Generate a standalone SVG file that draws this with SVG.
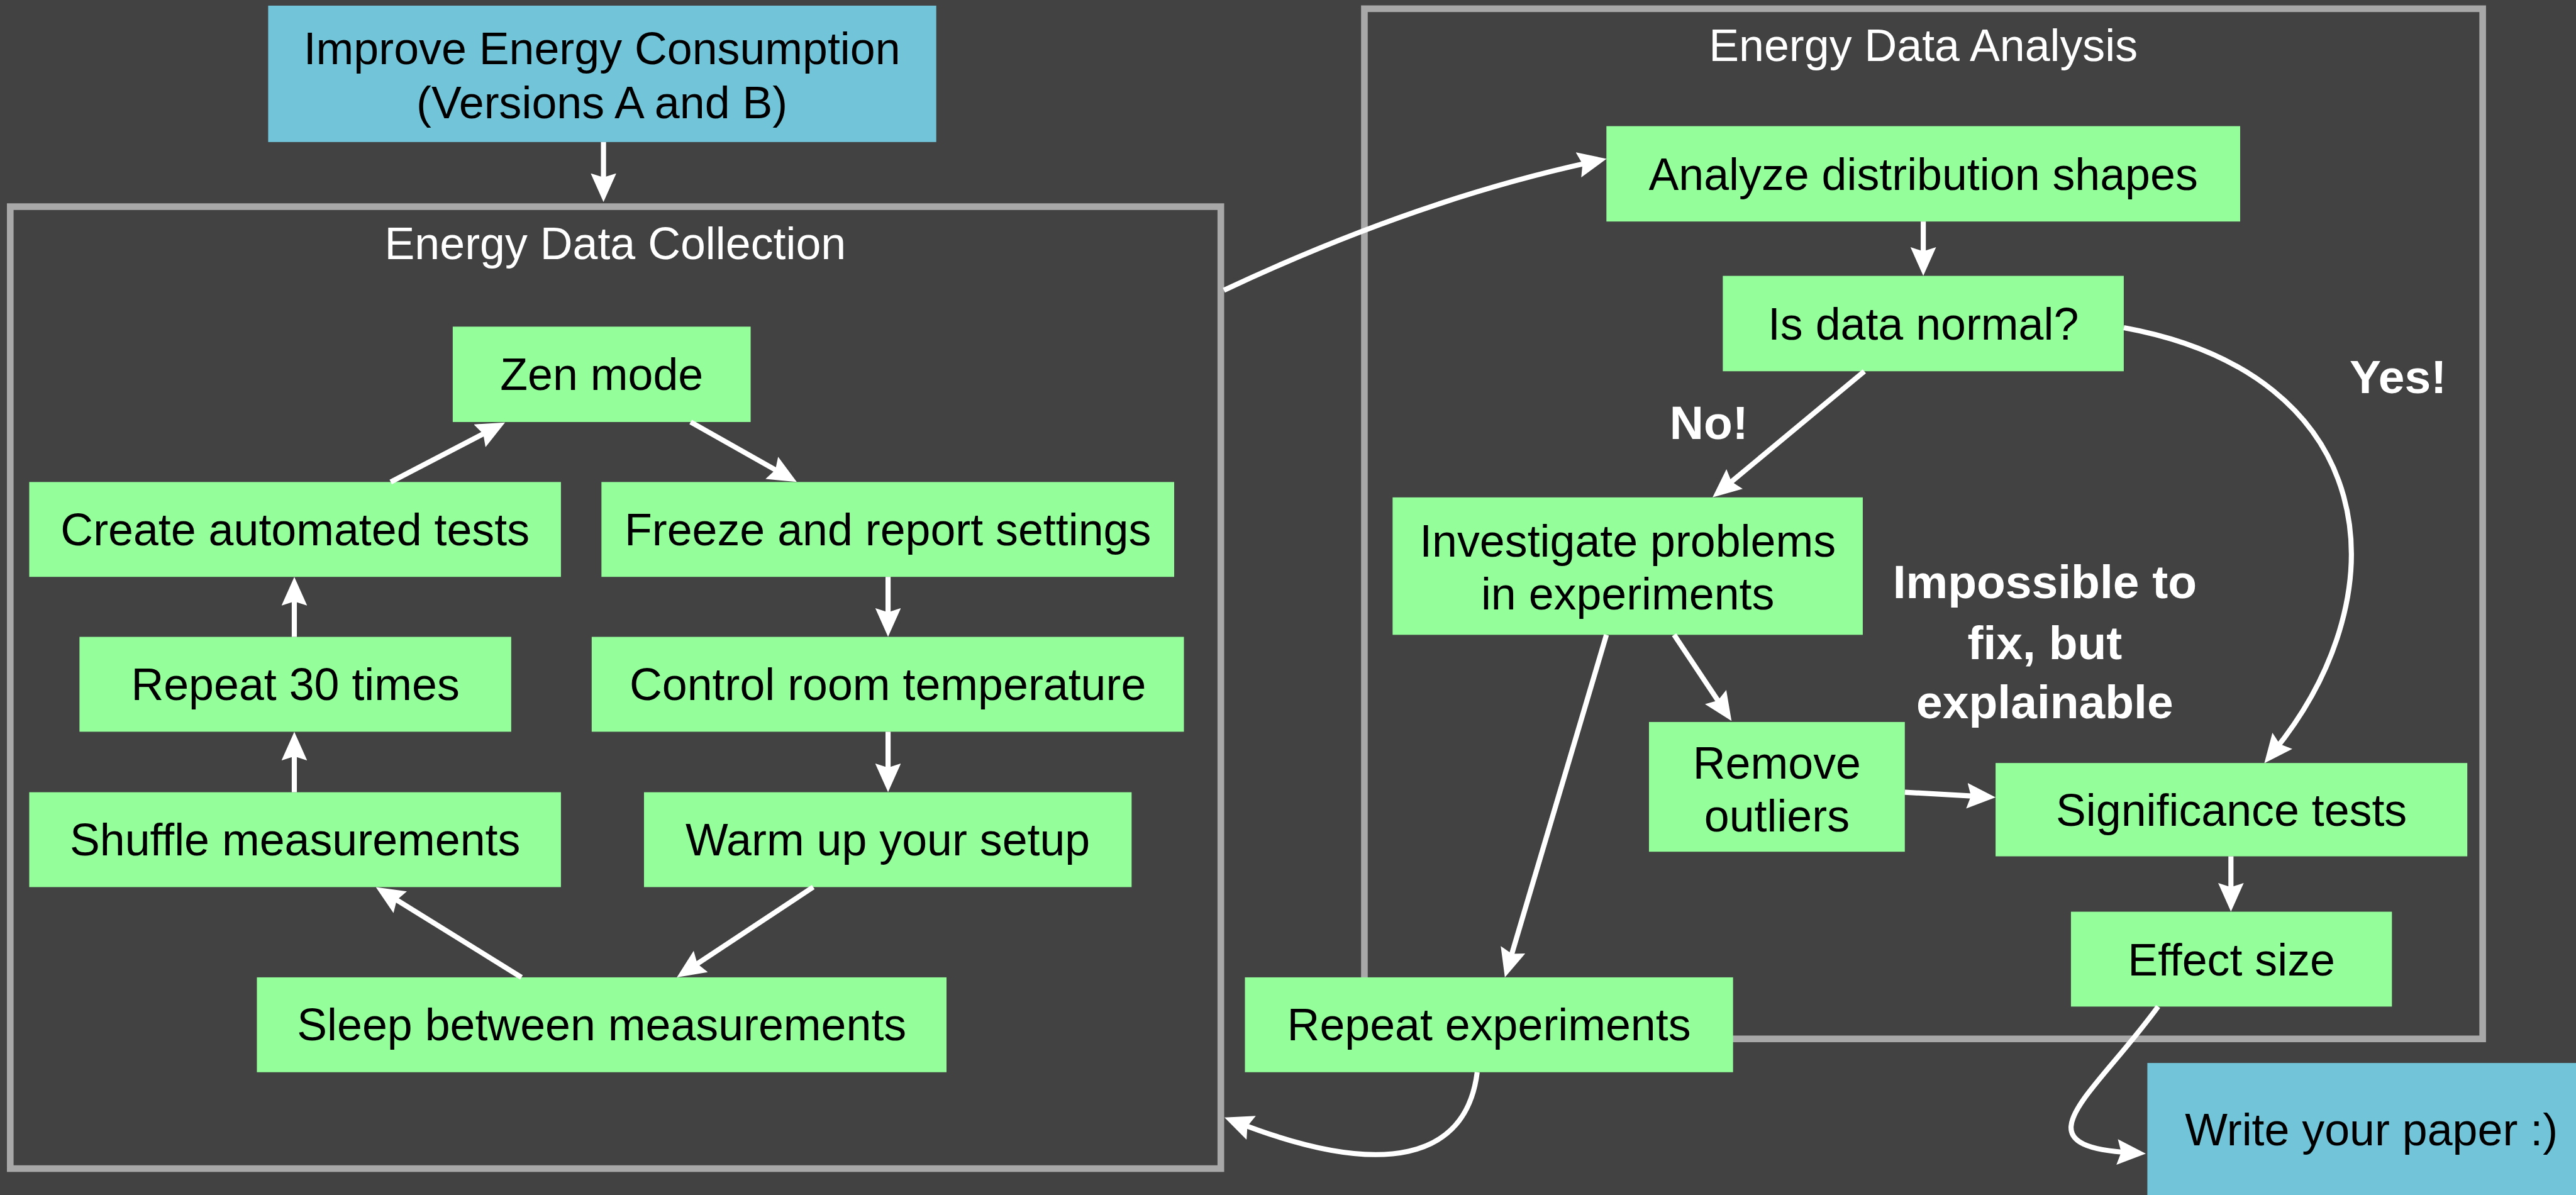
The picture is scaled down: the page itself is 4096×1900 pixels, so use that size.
<svg xmlns="http://www.w3.org/2000/svg" width="4096" height="1900" viewBox="0 0 4096 1900">
<defs>
<style>
.g{fill:#94fe9b}
.b{fill:#72c4d9}
.t{font-family:"Liberation Sans",Arial,sans-serif;font-size:88px;fill:#000;text-anchor:middle}
.w{font-family:"Liberation Sans",Arial,sans-serif;font-size:88px;fill:#fff;text-anchor:middle}
.l{font-family:"Liberation Sans",Arial,sans-serif;font-size:92px;font-weight:bold;fill:#fff;text-anchor:middle}
.box{fill:none;stroke:#a8a8a8;stroke-width:13}
.c{fill:none;stroke:#fff;stroke-width:10;marker-end:url(#ah)}
</style>
<marker id="ah" markerUnits="userSpaceOnUse" viewBox="0 0 56 50" markerWidth="56" markerHeight="50" refX="26" refY="25" orient="auto">
<path d="M0,0 L56,25 L0,50 L8,25 z" fill="#fff"/>
</marker>
</defs>
<rect width="4096" height="1900" fill="#424242"/>
<g transform="scale(0.8152866)">
<g id="collection">
<rect class="box" x="20" y="403" width="2361" height="1876"/>
<text class="w" x="1200" y="505">Energy Data Collection</text>
</g>
<g id="analysis">
<rect class="box" x="2661" y="17" width="2181" height="2009"/>
<text class="w" x="3751" y="119">Energy Data Analysis</text>
</g>
<g id="improve">
<rect class="b" x="523" y="11" width="1303" height="266"/>
<text class="t" x="1174" y="125">Improve Energy Consumption</text>
<text class="t" x="1174" y="230">(Versions A and B)</text>
</g>
<g id="zen">
<rect class="g" x="883" y="637" width="581" height="186"/>
<text class="t" x="1173.5" y="761">Zen mode</text>
</g>
<g id="create">
<rect class="g" x="57" y="940" width="1037" height="185"/>
<text class="t" x="575.5" y="1063">Create automated tests</text>
</g>
<g id="freeze">
<rect class="g" x="1173" y="940" width="1117" height="185"/>
<text class="t" x="1731.5" y="1063">Freeze and report settings</text>
</g>
<g id="repeat30">
<rect class="g" x="155" y="1242" width="842" height="185"/>
<text class="t" x="576" y="1365">Repeat 30 times</text>
</g>
<g id="control">
<rect class="g" x="1154" y="1242" width="1155" height="185"/>
<text class="t" x="1731.5" y="1365">Control room temperature</text>
</g>
<g id="shuffle">
<rect class="g" x="57" y="1545" width="1037" height="185"/>
<text class="t" x="575.5" y="1668">Shuffle measurements</text>
</g>
<g id="warm">
<rect class="g" x="1256" y="1545" width="951" height="185"/>
<text class="t" x="1731.5" y="1668">Warm up your setup</text>
</g>
<g id="sleep">
<rect class="g" x="501" y="1906" width="1345" height="185"/>
<text class="t" x="1173.5" y="2029">Sleep between measurements</text>
</g>
<g id="repeatexp">
<rect class="g" x="2428" y="1906" width="952" height="185"/>
<text class="t" x="2904" y="2029">Repeat experiments</text>
</g>
<g id="analyze">
<rect class="g" x="3133" y="246" width="1236" height="186"/>
<text class="t" x="3751" y="370">Analyze distribution shapes</text>
</g>
<g id="isnormal">
<rect class="g" x="3360" y="538" width="782" height="186"/>
<text class="t" x="3751" y="662">Is data normal?</text>
</g>
<g id="investigate">
<rect class="g" x="2716" y="970" width="917" height="268"/>
<text class="t" x="3174.5" y="1086">Investigate problems</text>
<text class="t" x="3174.5" y="1189">in experiments</text>
</g>
<g id="remove">
<rect class="g" x="3216" y="1408" width="499" height="253"/>
<text class="t" x="3465.5" y="1519">Remove</text>
<text class="t" x="3465.5" y="1621">outliers</text>
</g>
<g id="significance">
<rect class="g" x="3892" y="1488" width="920" height="182"/>
<text class="t" x="4352" y="1610">Significance tests</text>
</g>
<g id="effect">
<rect class="g" x="4039" y="1778" width="626" height="185"/>
<text class="t" x="4352" y="1902">Effect size</text>
</g>
<g id="write">
<rect class="b" x="4188" y="2073" width="900" height="300"/>
<text class="t" x="4625" y="2234">Write your paper :)</text>
</g>
<g id="labels">
<text class="l" x="3333" y="856">No!</text>
<text class="l" x="4677" y="767">Yes!</text>
<text class="l" x="3988" y="1167">Impossible to</text>
<text class="l" x="3988" y="1285">fix, but</text>
<text class="l" x="3988" y="1401">explainable</text>
</g>
<g id="connectors">
<path class="c" d="M1177,277 L1177,364"/>
<path class="c" d="M762,940 L958.4,837.8"/>
<path class="c" d="M1347,823 L1527.9,925.2"/>
<path class="c" d="M1732,1125 L1732,1212"/>
<path class="c" d="M1732,1427 L1732,1515"/>
<path class="c" d="M1586,1730 L1345,1889.4"/>
<path class="c" d="M1017,1906 L758.5,1745.8"/>
<path class="c" d="M574,1545 L574,1457"/>
<path class="c" d="M574,1242 L574,1155"/>
<path class="c" d="M2387,566 Q2759,391 3104,316"/>
<path class="c" d="M3751,432 L3751,508"/>
<path class="c" d="M3636,724 L3363.1,950.8"/>
<path class="c" d="M4142,639 C4640,730 4690,1150 4435,1465"/>
<path class="c" d="M3265,1238 L3360.4,1381"/>
<path class="c" d="M3133,1238 L2943.5,1877.2"/>
<path class="c" d="M3715,1545 L3862,1553.3"/>
<path class="c" d="M4351,1670 L4351,1748"/>
<path class="c" d="M2881,2091 C2860,2260 2700,2300 2416,2190"/>
<path class="c" d="M4209,1963 C4080,2140 3930,2235 4155,2248"/>
</g>
</g>
</svg>
